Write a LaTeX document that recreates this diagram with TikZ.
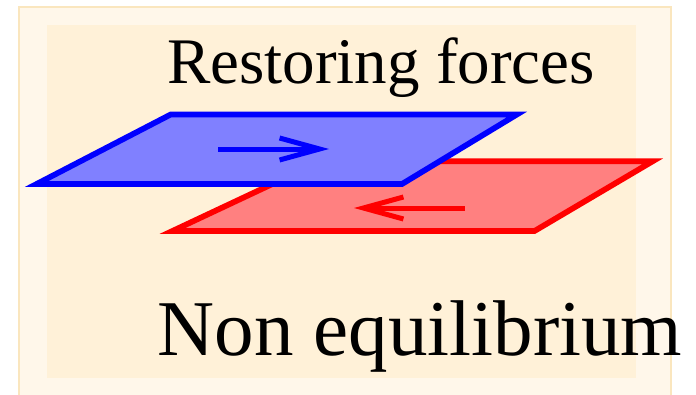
\documentclass[tikz,border=0pt]{standalone}
\usepackage{fontspec}
\setmainfont{Liberation Serif}
\usetikzlibrary{arrows.meta}
\definecolor{outerfill}{RGB}{255,247,234}
\definecolor{outerline}{RGB}{250,230,190}
\definecolor{innerfill}{RGB}{255,241,216}
\tikzset{
  plate/.style={line width=5.7pt, line join=miter},
  blueplate/.style={plate, draw=blue, fill=blue!50},
  redplate/.style={plate, draw=red, fill=red!50},
  force/.style={line width=5pt, -{Straight Barb[length=40pt,width=22pt]}},
  label/.style={inner sep=0pt, anchor=base}
}
\begin{document}
\begin{tikzpicture}[x=1pt,y=-1pt]
\useasboundingbox (0,0) rectangle (696,394);
\clip (0,0) rectangle (696,394);
\fill[white] (0,0) rectangle (696,394);
\draw[outerline, fill=outerfill, line width=1.5pt] (19,7) rectangle (671,400);
\fill[innerfill] (47,25) rectangle (636,378);
% red plate (below)
\draw[redplate] (172.4,231) -- (320.9,161.2) -- (652.8,161.2) -- (534.5,231) -- cycle;
% blue plate (above)
\draw[blueplate] (36.6,184) -- (170.7,114.5) -- (516.9,114.5) -- (402,184) -- cycle;
% arrows
\coordinate (bs) at (218,149);
\coordinate (be) at (329,149);
\coordinate (rs) at (465,208);
\coordinate (re) at (354,208);
\draw[force, blue] (bs) -- (be);
\draw[force, red] (rs) -- (re);
% texts
\node[label, font=\fontsize{65}{78}\selectfont] (rf) at (381,83) {Restoring forces};
\node[label, font=\fontsize{79}{95}\selectfont] (ne) at (420,355) {Non equilibrium};
\end{tikzpicture}
\end{document}
